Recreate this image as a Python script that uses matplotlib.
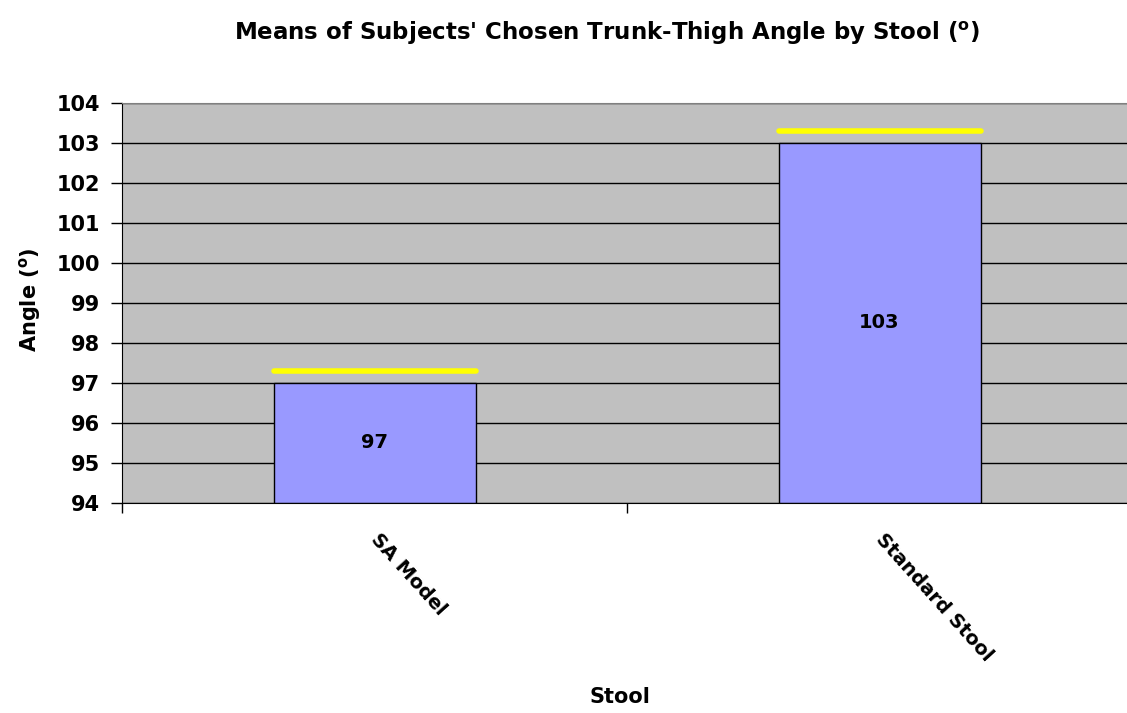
import matplotlib.pyplot as plt

plt.rcParams['font.family'] = ['DejaVu Sans']
plt.rcParams['font.weight'] = 'bold'

stools = ['SA Model', 'Standard Stool']
means = [97, 103]
marks = [97.3, 103.3]
yticks = list(range(94, 105))

fig = plt.figure(figsize=(11.27, 7.13), dpi=100)
W, H = 1127, 713
ax = fig.add_axes([122 / W, (H - 503) / H, (1132 - 122) / W, 400 / H])
ax.set_facecolor('#C0C0C0')

x = list(range(len(stools)))
ax.set_axisbelow(True)
ax.yaxis.grid(True, color='black', linewidth=1)
ax.bar(x, [m - 94 for m in means], bottom=94, width=0.4, color='#9999FF',
       edgecolor='black', linewidth=1, zorder=2)
ax.hlines(marks, [i - 0.2 for i in x], [i + 0.2 for i in x], colors='#FFFF00',
          linewidth=4, capstyle='round', zorder=3)
for i, m in zip(x, means):
    ax.text(i, (94 + m) / 2, str(m), ha='center', va='center',
            fontsize=14, fontweight='bold', zorder=4)

ax.set_xlim(-0.5, 1.5)
ax.set_ylim(94, 104)
ax.set_yticks(yticks)
ax.tick_params(axis='y', direction='out', length=8, width=1, labelsize=15, pad=8)
ax.set_xticks([-0.5, 0.5, 1.5])
ax.set_xticklabels([])
ax.tick_params(axis='x', which='major', direction='out', length=7, width=1)
ax.set_xticks(x, minor=True)
ax.set_xticklabels(stools, minor=True, rotation=-48, ha='left', va='center',
                   rotation_mode='anchor', fontsize=14, fontweight='bold')
ax.tick_params(axis='x', which='minor', length=0, pad=24)

for s in ['left', 'bottom']:
    ax.spines[s].set_color('black')
ax.spines['top'].set_color('#808080')
ax.spines['right'].set_visible(False)

fig.text(607 / W, 1 - 33 / H, "Means of Subjects' Chosen Trunk-Thigh Angle by Stool ($\\mathregular{^o}$)",
         ha='center', va='center', fontsize=16.5, fontweight='bold')
fig.text(30 / W, 1 - 300 / H, "Angle ($\\mathregular{^o}$)", rotation=90,
         ha='center', va='center', fontsize=15, fontweight='bold')
fig.text(620 / W, 1 - 697 / H, 'Stool', ha='center', va='center',
         fontsize=15, fontweight='bold')

fig.savefig('out.png', dpi=100)
